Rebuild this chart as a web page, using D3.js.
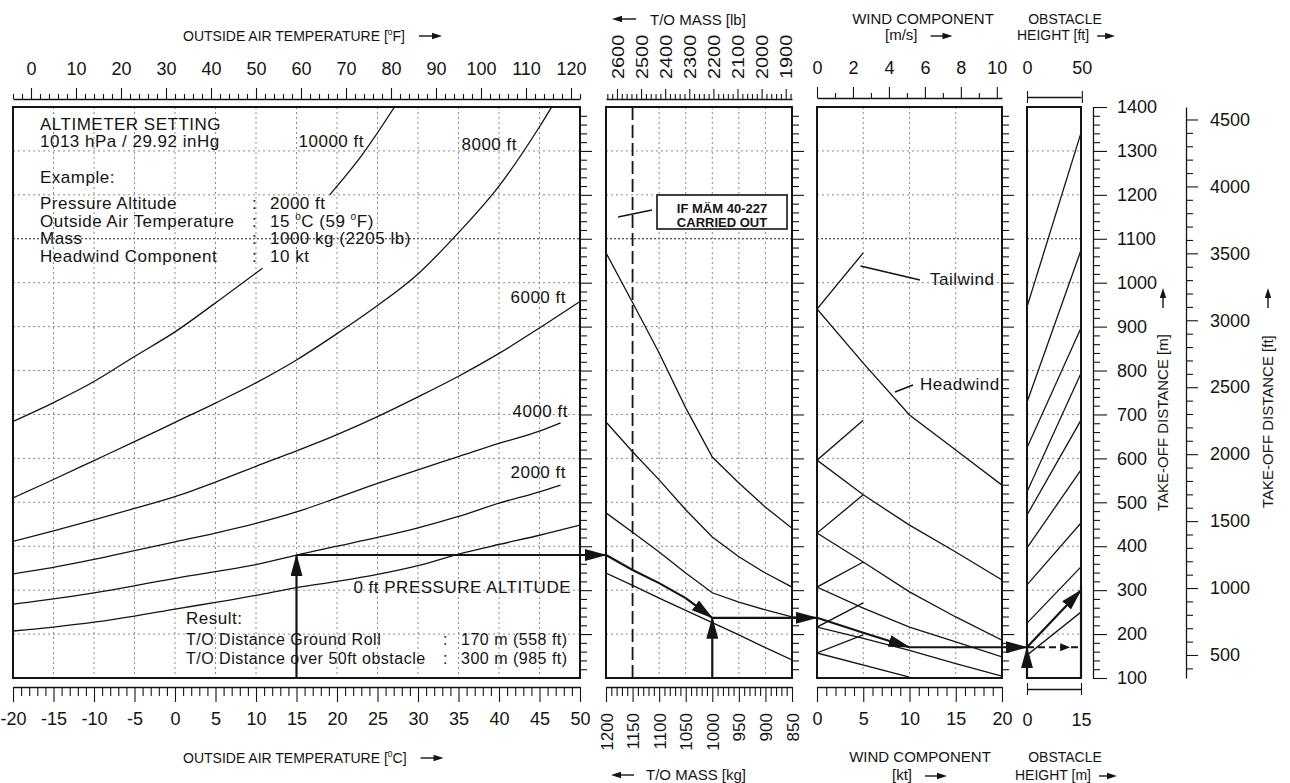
<!DOCTYPE html>
<html>
<head>
<meta charset="utf-8">
<title>Take-off distance</title>
<script src="https://cdn.jsdelivr.net/npm/d3@7/dist/d3.min.js"></script>
<style>
  html, body { margin: 0; padding: 0; background: #fff; }
  svg { display: block; font-family: "Liberation Sans", Arial, Helvetica, sans-serif; }
</style>
</head>
<body>
<svg id="chart" width="1290" height="783"></svg>
<script>
// ---- tick labels ----
const tempTicksF = [0, 10, 20, 30, 40, 50, 60, 70, 80, 90, 100, 110, 120];
const tempTicksC = [-20, -15, -10, -5, 0, 5, 10, 15, 20, 25, 30, 35, 40, 45, 50];
const massTicksLb = [2600, 2500, 2400, 2300, 2200, 2100, 2000, 1900];
const massTicksKg = [1200, 1150, 1100, 1050, 1000, 950, 900, 850];
const windTicksMs = [0, 2, 4, 6, 8, 10];
const windTicksKt = [0, 5, 10, 15, 20];
const obstTicksFt = [0, 50];
const obstTicksM = [0, 15];
const distTicksM = [100, 200, 300, 400, 500, 600, 700, 800, 900, 1000, 1100, 1200, 1300, 1400];
const distTicksFt = [500, 1000, 1500, 2000, 2500, 3000, 3500, 4000, 4500];

// ---- pressure altitude curves: [OAT degC, distance m], null = break behind text ----
const alt0 = [[-20, 207], [-15, 216], [-10, 227], [-5, 241], [0, 257], [5, 272], [10, 288], [15, 306], [20, 320], [25, 336], [30, 356], [35, 382], [40, 404], [45, 425], [50, 448]];
const alt2000 = [[-20, 268], [-15, 280], [-10, 294], [-5, 310], [0, 327], [5, 342], [10, 358], [15, 380], [20, 400], [25, 420], [30, 442], [35, 468], [40, 498], [45, 524], [47.6, 539]];
const alt4000 = [[-20, 337], [-15, 352], [-10, 370], [-5, 390], [0, 410], [5, 430], [10, 452], [15, 478], [20, 510], [25, 543], [30, 574], [35, 604], [40, 634], [45, 662], [47.6, 681]];
const alt6000 = [[-20, 411], [-15, 435], [-10, 460], [-5, 486], [0, 513], [5, 546], [10, 582], [15, 617], [20, 654], [25, 695], [30, 740], [35, 787], [40, 839], [45, 897], [50, 957]];
const alt8000 = [[-20, 510], [-15, 552], [-10, 595], [-5, 638], [0, 682], [5, 726], [10, 772], [15, 824], [20, 884], [25, 948], [30, 1020], [35, 1114], [40, 1220], [45, 1355], [46.5, 1400]];
const alt10000 = [[-20, 684], [-15, 727], [-10, 775], [-5, 832], [0, 888], [5, 954], [10.8, 1033], null, [19.1, 1200], [23.1, 1291], [27.1, 1400]];

// ---- mass correction guides: [kg, distance m] ----
const massGuide1 = [[1200, 1068], [1150, 955], [1100, 840], [1050, 715], [1000, 603], [950, 544], [900, 489], [850, 441]];
const massGuide2 = [[1200, 683], [1150, 615], [1100, 551], [1050, 483], [1000, 421], [950, 376], [900, 339], [850, 307]];
const massGuide3 = [[1200, 476], [1150, 432], [1100, 387], [1050, 339], [1000, 294], [950, 273], [900, 255], [850, 239]];
const massGuide4 = [[1200, 339], [1150, 311], [1100, 282], [1050, 254], [1000, 226], [950, 198], [900, 169], [850, 141]];

// ---- wind correction guides: [kt, distance m] ----
const headwind1 = [[0, 940], [5, 817], [10, 699], [15, 619], [20, 539]];
const headwind2 = [[0, 596], [5, 517], [10, 448], [15, 387], [20, 323]];
const headwind3 = [[0, 430], [5, 364], [10, 296], [15, 239], [20, 186]];
const headwind4 = [[0, 307], [5, 259], [10, 216], [15, 182], [20, 148]];
const headwind5 = [[0, 216], [5, 190], [10, 163], [15, 133], [20, 104]];
const headwind6 = [[0, 157], [10, 102]];
const tailwind1 = [[0, 940], [5, 1068]];
const tailwind2 = [[0, 596], [5, 687]];
const tailwind3 = [[0, 430], [5, 517]];
const tailwind4 = [[0, 307], [5, 364]];
const tailwind5 = [[0, 216], [5, 271]];
const tailwind6 = [[0, 157], [5, 198]];

// ---- obstacle guides: [distance at 0 m height, distance at 15 m height] ----
const obstGuides = [[945, 1341], [728, 1074], [624, 897], [524, 794], [471, 687], [396, 574], [312, 453], [225, 353], [152, 250]];

// ---- worked example ----
const exTempC = 15;
const exDistAlt = 380;
const exMassPath = [[1200, 380], [1150, 346], [1100, 316], [1050, 282], [1000, 237]];
const exWindPath = [[0, 237], [5, 203], [10, 170]];
const exGroundRoll = 170;
const exObstacle = 300;

const INK = "#141414";
const svg = d3.select("#chart");
svg.append("rect").attr("width", 1290).attr("height", 783).attr("fill", "#fff");

// scales
const KG_PER_LB = 0.45359237, M_PER_FT = 0.3048, MS_PER_KT = 0.514444;
const yM = d3.scaleLinear().domain([100, 1400]).range([678, 107]);
const yFt = d3.scaleLinear().domain([100 / M_PER_FT, 1400 / M_PER_FT]).range([678, 107]);
const xC = d3.scaleLinear().domain([-20, 50]).range([13, 580]);
const xF = d3.scaleLinear().domain([-4, 122]).range([13, 580]);
const xKg = d3.scaleLinear().domain([1200, 850]).range([606, 792]);
const xLb = d3.scaleLinear().domain([1200 / KG_PER_LB, 850 / KG_PER_LB]).range([606, 792]);
const xKt = d3.scaleLinear().domain([0, 20]).range([817, 1002]);
const xMs = d3.scaleLinear().domain([0, 20 * MS_PER_KT]).range([817, 1002]);
const xOb = d3.scaleLinear().domain([0, 15]).range([1027, 1081]);
const xObFt = d3.scaleLinear().domain([0, 15 / M_PER_FT]).range([1027, 1081]);

const panels = [
  { x: xC, id: "pOat", vgrid: [-15, -10, -5, 0, 5, 10, 15, 20, 25, 30, 35, 40, 45], edgeTicks: true },
  { x: xKg, id: "pMass", vgrid: [1100, 1050, 1000, 950, 900], edgeTicks: true },
  { x: xKt, id: "pWind", vgrid: [5, 10, 15], edgeTicks: true },
  { x: xOb, id: "pObst", vgrid: [], edgeTicks: false }
];

const defs = svg.append("defs");
panels.forEach((p) => {
  const [x0, x1] = p.x.range();
  defs.append("clipPath").attr("id", p.id).append("rect")
    .attr("x", x0).attr("y", yM(1400)).attr("width", x1 - x0).attr("height", yM(100) - yM(1400));
});
defs.append("marker").attr("id", "ah").attr("viewBox", "0 0 22 12")
  .attr("refX", 21).attr("refY", 6).attr("markerUnits", "userSpaceOnUse")
  .attr("markerWidth", 22).attr("markerHeight", 12).attr("orient", "auto")
  .attr("preserveAspectRatio", "none")
  .append("path").attr("d", "M0,0L22,6L0,12Z").attr("fill", INK);

// grids
const hGrid = d3.range(200, 1400, 100);
panels.forEach((p) => {
  const [x0, x1] = p.x.range();
  const g = svg.append("g");
  g.selectAll("line.h").data(hGrid).join("line")
    .attr("x1", x0).attr("x2", x1).attr("y1", (d) => yM(d)).attr("y2", (d) => yM(d))
    .attr("stroke", (d) => (d === 1100 ? "#222" : "#8a8a8a"))
    .attr("stroke-width", 1)
    .attr("stroke-dasharray", (d) => (d === 1100 ? "2,2" : "2,3"));
  g.selectAll("line.v").data(p.vgrid).join("line")
    .attr("x1", (d) => p.x(d)).attr("x2", (d) => p.x(d)).attr("y1", yM(1400)).attr("y2", yM(100))
    .attr("stroke", "#8a8a8a").attr("stroke-width", 1).attr("stroke-dasharray", "2,3");
});

// mod 40-227 line at 1150 kg
svg.append("line").attr("x1", xKg(1150)).attr("x2", xKg(1150)).attr("y1", yM(1400)).attr("y2", yM(100))
  .attr("stroke", INK).attr("stroke-width", 1.8).attr("stroke-dasharray", "13,5");

// axis helper
function drawAxis(gen, tx, ty, opts = {}) {
  const g = svg.append("g").attr("transform", `translate(${tx},${ty})`).call(gen)
    .attr("font-family", null).attr("font-size", null);
  if (opts.minor) {
    g.select(".domain").remove();
    g.selectAll(".tick text").remove();
  } else {
    g.select(".domain").attr("stroke", INK).attr("stroke-width", 1.3);
    g.selectAll(".tick text").attr("fill", INK).style("font-size", (opts.size || 18) + "px");
  }
  g.selectAll(".tick line").attr("stroke", INK).attr("stroke-width", 1.1);
  return g;
}
const notIn = (arr) => (v) => !arr.includes(v);
const str = (d) => String(d);

// OAT axes
drawAxis(d3.axisTop(xF).tickValues(tempTicksF).tickSize(11).tickSizeOuter(0).tickPadding(13).tickFormat(str), 0, 99);
drawAxis(d3.axisTop(xF).tickValues(d3.range(-4, 123, 2).filter((v) => v % 10)).tickSize(5), 0, 99, { minor: true });
drawAxis(d3.axisBottom(xC).tickValues(tempTicksC).tickSize(15).tickSizeOuter(0).tickPadding(10).tickFormat(str), 0, 687);
drawAxis(d3.axisBottom(xC).tickValues(d3.range(-20, 51).filter((v) => v % 5)).tickSize(9), 0, 687, { minor: true });

// mass axes (rotated labels)
const LB_STRETCH = 1.17;
drawAxis(d3.axisTop(xLb).tickValues(massTicksLb).tickSize(10).tickSizeOuter(0).tickFormat(str), 0, 99, { size: 17 })
  .selectAll(".tick text").attr("transform", `rotate(-90) scale(${LB_STRETCH},1)`).attr("text-anchor", "start")
  .attr("x", 20 / LB_STRETCH).attr("y", 0).attr("dy", "0.36em");
drawAxis(d3.axisTop(xLb).tickValues(d3.range(1880, 2641, 20).filter((v) => v % 100)).tickSize(5), 0, 99, { minor: true });
drawAxis(d3.axisBottom(xKg).tickValues(massTicksKg).tickSize(15).tickSizeOuter(0).tickFormat(str), 0, 687, { size: 17 })
  .selectAll(".tick text").attr("transform", "rotate(-90)").attr("text-anchor", "end")
  .attr("x", -26).attr("y", 0).attr("dy", "0.36em");
drawAxis(d3.axisBottom(xKg).tickValues(d3.range(850, 1201, 10).filter(notIn(massTicksKg))).tickSize(9), 0, 687, { minor: true });

// wind axes
drawAxis(d3.axisTop(xMs).tickValues(windTicksMs).tickSize(11).tickSizeOuter(0).tickPadding(13).tickFormat(str), 0, 98);
drawAxis(d3.axisTop(xMs).tickValues([1, 3, 5, 7, 9]).tickSize(5), 0, 98, { minor: true });
drawAxis(d3.axisBottom(xKt).tickValues(windTicksKt).tickSize(15).tickSizeOuter(0).tickPadding(10).tickFormat(str), 0, 687);
drawAxis(d3.axisBottom(xKt).tickValues(d3.range(0, 21).filter((v) => v % 5)).tickSize(9), 0, 687, { minor: true });

// obstacle axes (|----| style)
drawAxis(d3.axisTop(xObFt).tickValues(obstTicksFt).tickSize(6).tickSizeOuter(0).tickPadding(17).tickFormat(str), 0, 97);
drawAxis(d3.axisBottom(xObFt).tickValues(obstTicksFt).tickSize(6), 0, 97, { minor: true });
drawAxis(d3.axisBottom(xOb).tickValues(obstTicksM).tickSize(6).tickSizeOuter(0).tickPadding(18).tickFormat(str), 0, 689);
drawAxis(d3.axisTop(xOb).tickValues(obstTicksM).tickSize(6), 0, 689, { minor: true });

// distance axes on the right
drawAxis(d3.axisRight(yM).tickValues(distTicksM).tickSize(14).tickSizeOuter(0).tickPadding(10).tickFormat(str), 1093, 0);
drawAxis(d3.axisRight(yM).tickValues(d3.range(100, 1401, 20).filter((v) => v % 100)).tickSize(7), 1093, 0, { minor: true });
drawAxis(d3.axisRight(yFt).tickValues(distTicksFt).tickSize(12).tickSizeOuter(0).tickPadding(12).tickFormat(str), 1186, 0);
drawAxis(d3.axisRight(yFt).tickValues(d3.range(400, 4501, 100).filter((v) => v % 500)).tickSize(7), 1186, 0, { minor: true });

// ticks on panel right edges
panels.filter((p) => p.edgeTicks).forEach((p) => {
  const xr = p.x.range()[1];
  drawAxis(d3.axisRight(yM).tickValues(d3.range(200, 1400, 100)).tickSize(12), xr, 0, { minor: true });
  drawAxis(d3.axisRight(yM).tickValues(d3.range(100, 1401, 20).filter((v) => v % 100)).tickSize(7), xr, 0, { minor: true });
});

// guide curves
const curveLayer = (id) => svg.append("g").attr("clip-path", `url(#${id})`)
  .attr("fill", "none").attr("stroke", INK).attr("stroke-width", 1.3);

const lineOat = d3.line().defined((d) => d != null).x((d) => xC(d[0])).y((d) => yM(d[1])).curve(d3.curveMonotoneX);
const gOat = curveLayer("pOat");
[alt0, alt2000, alt4000, alt6000, alt8000, alt10000].forEach((s) => gOat.append("path").attr("d", lineOat(s)));

const lineMass = d3.line().x((d) => xKg(d[0])).y((d) => yM(d[1]));
const gMass = curveLayer("pMass");
[massGuide1, massGuide2, massGuide3, massGuide4].forEach((s) => gMass.append("path").attr("d", lineMass(s)));

const lineWind = d3.line().x((d) => xKt(d[0])).y((d) => yM(d[1]));
const gWind = curveLayer("pWind");
[headwind1, headwind2, headwind3, headwind4, headwind5, headwind6,
 tailwind1, tailwind2, tailwind3, tailwind4, tailwind5, tailwind6].forEach((s) => gWind.append("path").attr("d", lineWind(s)));

const gObst = curveLayer("pObst");
gObst.selectAll("line").data(obstGuides).join("line")
  .attr("x1", xOb(0)).attr("x2", xOb(15)).attr("y1", (d) => yM(d[0])).attr("y2", (d) => yM(d[1]));

// panel frames
panels.forEach((p) => {
  const [x0, x1] = p.x.range();
  svg.append("rect").attr("x", x0).attr("y", yM(1400)).attr("width", x1 - x0).attr("height", yM(100) - yM(1400))
    .attr("fill", "none").attr("stroke", INK).attr("stroke-width", 2);
});

// worked example path
const gEx = svg.append("g").attr("fill", "none").attr("stroke", INK).attr("stroke-width", 2.2);
const seg = (x1, y1, x2, y2, arrow) => gEx.append("line").attr("x1", x1).attr("y1", y1).attr("x2", x2).attr("y2", y2)
  .attr("marker-end", arrow ? "url(#ah)" : null);
const exMassEnd = exMassPath[exMassPath.length - 1][1];
seg(xC(exTempC), yM(100), xC(exTempC), yM(exDistAlt), true);
seg(xC(exTempC), yM(exDistAlt), xKg(1200), yM(exDistAlt), true);
gEx.append("path").attr("d", lineMass(exMassPath)).attr("marker-end", "url(#ah)");
seg(xKg(1000), yM(100), xKg(1000), yM(exMassEnd), true);
seg(xKg(1000), yM(exMassEnd), xKt(0), yM(exMassEnd), true);
gEx.append("path").attr("d", lineWind(exWindPath)).attr("marker-end", "url(#ah)");
seg(xKt(10), yM(exGroundRoll), xOb(0), yM(exGroundRoll), true);
seg(xOb(0), yM(100), xOb(0), yM(exGroundRoll), true);
seg(xOb(0), yM(exGroundRoll), xOb(15), yM(exObstacle), true);
seg(xOb(15), yM(100), xOb(15), yM(exObstacle + 10), false);
gEx.append("line").attr("x1", xOb(0)).attr("x2", xOb(15)).attr("y1", yM(exGroundRoll)).attr("y2", yM(exGroundRoll))
  .attr("stroke-dasharray", "7,4");
svg.append("path").attr("fill", INK)
  .attr("d", `M${xOb(12)},${yM(exGroundRoll)}l-10,-4v8z`);

// text helpers
function txt(x, y, s, opts = {}) {
  return svg.append("text").attr("x", x).attr("y", y).attr("fill", INK)
    .attr("text-anchor", opts.anchor || "start")
    .style("font-size", (opts.size || 17) + "px")
    .style("font-weight", opts.weight || null)
    .style("letter-spacing", opts.ls != null ? opts.ls + "px" : null)
    .text(s);
}
// text with small raised degree marks; parts: [text, raised]
function degTxt(x, y, parts, size, opts = {}) {
  const t = svg.append("text").attr("x", x).attr("y", y).attr("fill", INK)
    .attr("text-anchor", opts.anchor || "start").style("font-size", size + "px")
    .style("letter-spacing", opts.ls != null ? opts.ls + "px" : null);
  parts.forEach(([s, sup], i) => {
    const prevSup = i > 0 && parts[i - 1][1];
    t.append("tspan").text(s)
      .style("font-size", (sup ? size * 0.6 : size) + "px")
      .attr("dy", sup ? -size * 0.4 : prevSup ? size * 0.4 : null);
  });
  return t;
}
function arrowH(x1, x2, y) {
  const dir = Math.sign(x2 - x1);
  svg.append("line").attr("x1", x1).attr("x2", x2 - dir * 6).attr("y1", y).attr("y2", y)
    .attr("stroke", INK).attr("stroke-width", 1.4);
  svg.append("path").attr("fill", INK).attr("d", `M${x2},${y}l${-dir * 10},-3.2v6.4z`);
}
function arrowUp(x, y1, y2) {
  svg.append("line").attr("x1", x).attr("x2", x).attr("y1", y1).attr("y2", y2 + 6)
    .attr("stroke", INK).attr("stroke-width", 1.4);
  svg.append("path").attr("fill", INK).attr("d", `M${x},${y2}l-3.2,10h6.4z`);
}
// arrow placed after a text element, pointing right
function arrowAfter(t, gap, len, y) {
  const x0 = (+t.attr("x")) + t.node().getComputedTextLength() + gap;
  arrowH(x0, x0 + len, y);
}

// axis titles
arrowAfter(degTxt(183, 40.5, [["OUTSIDE AIR TEMPERATURE [", false], ["o", true], ["F]", false]], 14), 14, 23, 36);
arrowAfter(degTxt(183, 763, [["OUTSIDE AIR TEMPERATURE [", false], ["0", true], ["C]", false]], 14), 14, 23, 758);

arrowH(636, 612, 19);
txt(650, 24.5, "T/O MASS [lb]", { size: 15 });
arrowH(634, 611, 775);
txt(646, 780, "T/O MASS [kg]", { size: 15 });

txt(923, 24, "WIND COMPONENT", { size: 15, anchor: "middle" });
arrowAfter(txt(885, 40, "[m/s]", { size: 15 }), 13, 22, 36);
txt(920, 762, "WIND COMPONENT", { size: 15, anchor: "middle" });
arrowAfter(txt(892, 780, "[kt]", { size: 15 }), 13, 22, 776);

txt(1065, 24, "OBSTACLE", { size: 14, anchor: "middle" });
arrowAfter(txt(1017, 40, "HEIGHT [ft]", { size: 14 }), 8, 18, 36);
txt(1065, 762, "OBSTACLE", { size: 14, anchor: "middle" });
arrowAfter(txt(1015, 780, "HEIGHT [m]", { size: 14 }), 8, 18, 776);

txt(0, 0, "TAKE-OFF DISTANCE [m]", { size: 15 }).attr("transform", "translate(1168,511) rotate(-90)");
arrowUp(1163, 308, 288);
txt(0, 0, "TAKE-OFF DISTANCE [ft]", { size: 15 }).attr("transform", "translate(1273,508) rotate(-90)");
arrowUp(1268, 308, 288);

// pressure altitude labels
const LS = 0.5;
txt(364, 147, "10000 ft", { anchor: "end", ls: LS });
txt(517, 149.5, "8000 ft", { anchor: "end", ls: LS });
txt(566, 303, "6000 ft", { anchor: "end", ls: LS });
txt(568, 417, "4000 ft", { anchor: "end", ls: LS });
txt(566, 478, "2000 ft", { anchor: "end", ls: LS });
txt(571, 593, "0 ft PRESSURE ALTITUDE", { anchor: "end", ls: LS });

// header / example block
txt(40, 130, "ALTIMETER SETTING", { ls: LS });
txt(40, 147, "1013 hPa / 29.92 inHg", { ls: LS });
txt(40, 183, "Example:", { ls: LS });
const exRows = [
  ["Pressure Altitude", [["2000 ft", false]]],
  ["Outside Air Temperature", [["15 ", false], ["o", true], ["C (59 ", false], ["o", true], ["F)", false]]],
  ["Mass", [["1000 kg (2205 lb)", false]]],
  ["Headwind Component", [["10 kt", false]]]
];
exRows.forEach(([k, v], i) => {
  const y = 209 + i * 17.5;
  txt(40, y, k, { ls: LS });
  txt(252, y, ":");
  degTxt(270, y, v, 17, { ls: LS });
});

txt(186, 624, "Result:", { ls: LS });
txt(186, 645, "T/O Distance Ground Roll", { size: 16, ls: LS });
txt(443, 645, ":", { size: 16 });
txt(461, 645, "170 m (558 ft)", { size: 16, ls: LS });
txt(186, 664, "T/O Distance over 50ft obstacle", { size: 16, ls: LS });
txt(443, 664, ":", { size: 16 });
txt(461, 664, "300 m (985 ft)", { size: 16, ls: LS });

// MAM note
svg.append("rect").attr("x", 657).attr("y", 195).attr("width", 130).attr("height", 34)
  .attr("fill", "#fff").attr("stroke", INK).attr("stroke-width", 1.6);
txt(722, 212.5, "IF MÄM 40-227", { size: 13, weight: "bold", anchor: "middle" });
txt(722, 226.5, "CARRIED OUT", { size: 13, weight: "bold", anchor: "middle" });
svg.append("line").attr("x1", 618).attr("y1", 217).attr("x2", 652).attr("y2", 210)
  .attr("stroke", INK).attr("stroke-width", 1.4);

// wind labels
txt(930, 285, "Tailwind", { ls: LS });
svg.append("line").attr("x1", xKt(4.7)).attr("y1", 266).attr("x2", 920).attr("y2", 280)
  .attr("stroke", INK).attr("stroke-width", 1.6);
txt(920, 390, "Headwind", { ls: LS });
svg.append("line").attr("x1", 895).attr("y1", 392).attr("x2", 913).attr("y2", 385)
  .attr("stroke", INK).attr("stroke-width", 1.6);
</script>
</body>
</html>
